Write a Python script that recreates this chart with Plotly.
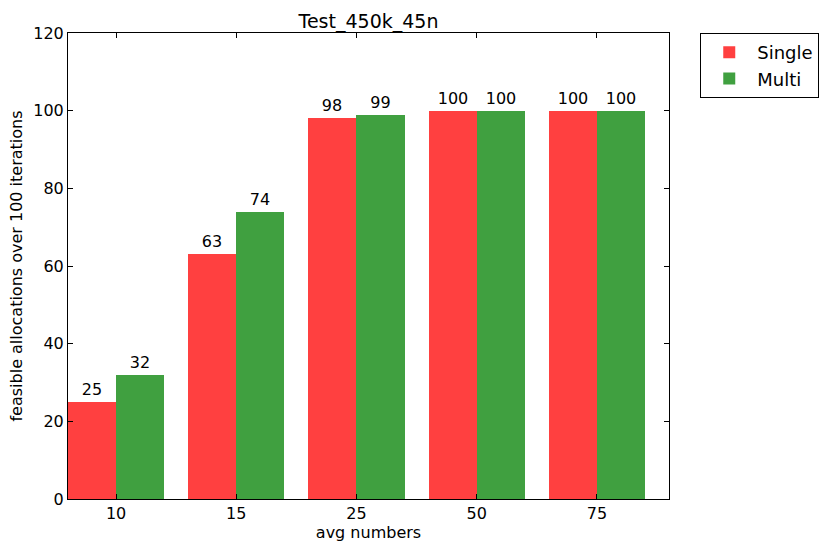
import plotly.graph_objects as go

categories = ["10", "15", "25", "50", "75"]
single = [25, 63, 98, 100, 100]
multi = [32, 74, 99, 100, 100]
y_ticks = [0, 20, 40, 60, 80, 100, 120]

bar_w = 0.4
pos = list(range(len(categories)))
font = "DejaVu Sans, Arial, sans-serif"

fig = go.Figure()
fig.add_trace(go.Bar(
    x=pos, y=single, name="Single", width=bar_w, offset=0,
    marker=dict(color="#ff4040", line=dict(width=0)),
    text=[str(v) for v in single], textposition="outside",
    textfont=dict(color="black", size=16, family=font), cliponaxis=False,
))
fig.add_trace(go.Bar(
    x=pos, y=multi, name="Multi", width=bar_w, offset=bar_w,
    marker=dict(color="#40a040", line=dict(width=0)),
    text=[str(v) for v in multi], textposition="outside",
    textfont=dict(color="black", size=16, family=font), cliponaxis=False,
))

fig.update_layout(
    width=826, height=546,
    margin=dict(l=68, r=157, t=33, b=47, autoexpand=False),
    paper_bgcolor="white", plot_bgcolor="white",
    font=dict(family=font, size=16, color="black"),
    title=dict(text="Test_450k_45n", x=0.5, xref="paper", y=1, yref="paper",
               yanchor="bottom", pad=dict(b=5), font=dict(size=19)),
    showlegend=True,
    legend=dict(x=1.052, y=1.0, xanchor="left", yanchor="top",
                bordercolor="black", borderwidth=1, font=dict(size=18),
                tracegroupgap=2, itemwidth=46),
    bargap=0, barmode="overlay",
    xaxis=dict(
        range=[0, 5], tickvals=[p + bar_w for p in pos], ticktext=categories,
        showline=True, linecolor="black", linewidth=1, mirror="ticks",
        ticks="inside", ticklen=5, tickcolor="black", showgrid=False,
        zeroline=False, tickfont=dict(size=16), automargin=False,
        title=dict(text="avg numbers", font=dict(size=16), standoff=4),
    ),
    yaxis=dict(
        range=[0, 120], tickvals=y_ticks,
        showline=True, linecolor="black", linewidth=1, mirror="ticks",
        ticks="inside", ticklen=5, tickcolor="black", showgrid=False,
        zeroline=False, tickfont=dict(size=16), automargin=False,
        title=dict(text="feasible allocations over 100 iterations",
                   font=dict(size=16), standoff=6),
    ),
)

fig.write_html("out.html")
